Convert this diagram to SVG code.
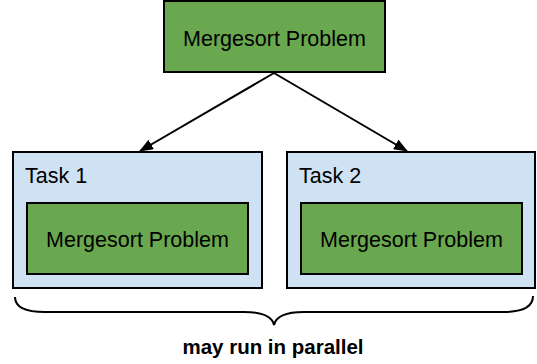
<svg xmlns="http://www.w3.org/2000/svg" width="537" height="364" viewBox="0 0 537 364">
  <defs>
    <style>
      .problem { fill: #6aa84f; stroke: #000; stroke-width: 2; }
      .task { fill: #cfe2f3; stroke: #000; stroke-width: 2; }
      .lbl { font-family: "Liberation Sans", Arial, sans-serif; font-size: 21.5px; fill: #000; }
      .mid { text-anchor: middle; }
      .edge { stroke: #000; stroke-width: 2; fill: none; }
      .brace { stroke: #000; stroke-width: 2; fill: none; }
      .note { font-family: "Liberation Sans", Arial, sans-serif; font-size: 20.5px; font-weight: bold; fill: #000; text-anchor: middle; }
    </style>
    <marker id="arrow" viewBox="0 0 14 11" refX="13" refY="5.5" markerWidth="14" markerHeight="11" markerUnits="userSpaceOnUse" orient="auto">
      <path d="M0,0 L14,5.5 L0,11 z" fill="#000"/>
    </marker>
  </defs>

  <!-- root problem -->
  <g id="root">
    <rect class="problem" x="164" y="1" width="221" height="71"/>
    <text class="lbl mid" x="274.5" y="46">Mergesort Problem</text>
  </g>

  <!-- first subtask -->
  <g id="task1">
    <rect class="task" x="13" y="152" width="249" height="136"/>
    <text class="lbl" x="25" y="183">Task 1</text>
    <rect class="problem" x="27" y="203" width="221" height="71"/>
    <text class="lbl mid" x="137.5" y="247">Mergesort Problem</text>
  </g>

  <!-- second subtask -->
  <g id="task2">
    <rect class="task" x="287" y="152" width="248" height="136"/>
    <text class="lbl" x="299" y="183">Task 2</text>
    <rect class="problem" x="301" y="203" width="221" height="71"/>
    <text class="lbl mid" x="411.5" y="247">Mergesort Problem</text>
  </g>

  <!-- connectors -->
  <g id="connectors">
    <line class="edge" x1="274" y1="73" x2="140" y2="151" marker-end="url(#arrow)"/>
    <line class="edge" x1="274" y1="73" x2="407" y2="151" marker-end="url(#arrow)"/>
  </g>

  <!-- brace grouping both tasks -->
  <g id="parallel">
    <path class="brace" d="M15,297 C15,307 25,312 45,312 L244,312 C262,312 272,316 274,325 C276,316 286,312 304,312 L503,312 C523,312 533,307 533,296"/>
    <text class="note" x="273" y="354">may run in parallel</text>
  </g>
</svg>
